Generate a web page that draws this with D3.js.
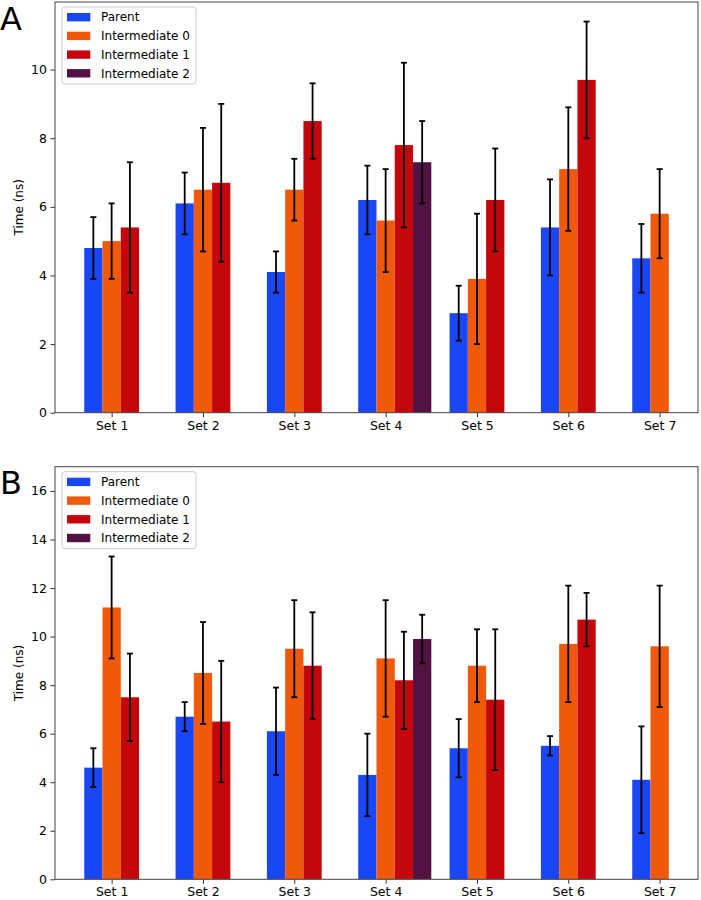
<!DOCTYPE html>
<html>
<head>
<meta charset="utf-8">
<script src="https://cdn.jsdelivr.net/npm/d3@7"></script>
<style>
  body { margin: 0; background: #fff; }
  svg text { font-family: "DejaVu Sans", sans-serif; fill: #000; }
</style>
</head>
<body>
<div id="chart"></div>
<script>
// categories and series
var categories = ["Set 1", "Set 2", "Set 3", "Set 4", "Set 5", "Set 6", "Set 7"];
var seriesNames = ["Parent", "Intermediate 0", "Intermediate 1", "Intermediate 2"];
var seriesColors = ["#1a47f5", "#f0580a", "#c4070c", "#521242"];

// panel A: means and errors (null = no bar)
var meansA = [
  [4.8, 6.1, 4.1, 6.2, 2.9, 5.4, 4.5],
  [5.0, 6.5, 6.5, 5.6, 3.9, 7.1, 5.8],
  [5.4, 6.7, 8.5, 7.8, 6.2, 9.7, null],
  [null, null, null, 7.3, null, null, null]
];
var errsA = [
  [0.9, 0.9, 0.6, 1.0, 0.8, 1.4, 1.0],
  [1.1, 1.8, 0.9, 1.5, 1.9, 1.8, 1.3],
  [1.9, 2.3, 1.1, 2.4, 1.5, 1.7, null],
  [null, null, null, 1.2, null, null, null]
];
var ticksA = [0, 2, 4, 6, 8, 10];

// panel B
var meansB = [
  [4.6, 6.7, 6.1, 4.3, 5.4, 5.5, 4.1],
  [11.2, 8.5, 9.5, 9.1, 8.8, 9.7, 9.6],
  [7.5, 6.5, 8.8, 8.2, 7.4, 10.7, null],
  [null, null, null, 9.9, null, null, null]
];
var errsB = [
  [0.8, 0.6, 1.8, 1.7, 1.2, 0.4, 2.2],
  [2.1, 2.1, 2.0, 2.4, 1.5, 2.4, 2.5],
  [1.8, 2.5, 2.2, 2.0, 2.9, 1.1, null],
  [null, null, null, 1.0, null, null, null]
];
var ticksB = [0, 2, 4, 6, 8, 10, 12, 14, 16];

var W = 701, H = 900;
var svg = d3.select("#chart").append("svg")
    .attr("width", W)
    .attr("height", H);

var barW = 0.2;

function drawPanel(letter, letterY, top, bottom, ymax, means, errs, ticks) {
  var left = 55, right = 698;
  var x = d3.scaleLinear().domain([-0.62, 6.42]).range([left, right]);
  var y = d3.scaleLinear().domain([0, ymax]).range([bottom, top]);

  var g = svg.append("g");

  // flatten to records
  var recs = [];
  means.forEach(function(row, s) {
    row.forEach(function(v, c) {
      if (v == null) return;
      recs.push({s: s, c: c, v: v, e: errs[s][c]});
    });
  });

  g.selectAll("rect.bar")
    .data(recs)
    .enter().append("rect")
      .attr("class", "bar")
      .attr("x", function(d) { return x(d.c + (d.s - 1) * barW - barW / 2); })
      .attr("width", function(d) { return x(barW) - x(0); })
      .attr("y", function(d) { return y(d.v); })
      .attr("height", function(d) { return y(0) - y(d.v); })
      .attr("fill", function(d) { return seriesColors[d.s]; });

  // error bars
  var eb = g.selectAll("g.err")
    .data(recs)
    .enter().append("g")
      .attr("class", "err")
      .attr("stroke", "#000")
      .attr("stroke-width", 1.8);
  eb.append("line")
      .attr("x1", function(d) { return x(d.c + (d.s - 1) * barW); })
      .attr("x2", function(d) { return x(d.c + (d.s - 1) * barW); })
      .attr("y1", function(d) { return y(d.v - d.e); })
      .attr("y2", function(d) { return y(d.v + d.e); });
  [-1, 1].forEach(function(k) {
    eb.append("line")
      .attr("x1", function(d) { return x(d.c + (d.s - 1) * barW) - 3; })
      .attr("x2", function(d) { return x(d.c + (d.s - 1) * barW) + 3; })
      .attr("y1", function(d) { return y(d.v + k * d.e); })
      .attr("y2", function(d) { return y(d.v + k * d.e); });
  });

  // axes
  var xAxis = g.append("g")
      .attr("transform", "translate(0," + bottom + ")")
      .call(d3.axisBottom(x)
        .tickValues(d3.range(categories.length))
        .tickFormat(function(i) { return categories[i]; })
        .tickSize(4.5).tickPadding(3.5));
  var yAxis = g.append("g")
      .attr("transform", "translate(" + left + ",0)")
      .call(d3.axisLeft(y).tickValues(ticks).tickFormat(d3.format("d"))
        .tickSize(4.5).tickPadding(3.5));
  [xAxis, yAxis].forEach(function(a) {
    a.select(".domain").remove();
    a.selectAll(".tick line").attr("stroke", "#333");
    a.selectAll(".tick text")
      .style("font-family", "DejaVu Sans")
      .style("font-size", "12.5px")
      .attr("fill", "#000");
  });

  // frame
  g.append("rect")
      .attr("x", left).attr("y", top)
      .attr("width", right - left).attr("height", bottom - top)
      .attr("fill", "none")
      .attr("stroke", "#444")
      .attr("stroke-width", 1);

  // y label
  g.append("text")
      .attr("transform", "translate(19," + ((top + bottom) / 2) + ") rotate(-90)")
      .attr("text-anchor", "middle")
      .attr("dy", "0.35em")
      .style("font-size", "12px")
      .text("Time (ns)");

  // legend
  var lx = 62, ly = top + 5;
  var leg = g.append("g").attr("transform", "translate(" + lx + "," + ly + ")");
  leg.append("rect")
      .attr("width", 134).attr("height", 77)
      .attr("rx", 3)
      .attr("fill", "#fff").attr("fill-opacity", 0.8)
      .attr("stroke", "#ccc");
  var items = leg.selectAll("g.item")
    .data(seriesNames)
    .enter().append("g")
      .attr("class", "item")
      .attr("transform", function(d, i) { return "translate(0," + (10.2 + i * 18.7) + ")"; });
  items.append("rect")
      .attr("x", 5).attr("y", -4.2)
      .attr("width", 23.3).attr("height", 8.4)
      .attr("fill", function(d, i) { return seriesColors[i]; });
  items.append("text")
      .attr("x", 39)
      .attr("dy", "0.35em")
      .style("font-size", "12px")
      .text(function(d) { return d; });

  // panel letter
  svg.append("text")
      .attr("x", 0).attr("y", letterY)
      .style("font-size", "32px")
      .text(letter);
}

drawPanel("A", 30, 2, 412.7, 11.97, meansA, errsA, ticksA);
drawPanel("B", 493.5, 466.7, 879.3, 17, meansB, errsB, ticksB);
</script>
</body>
</html>
